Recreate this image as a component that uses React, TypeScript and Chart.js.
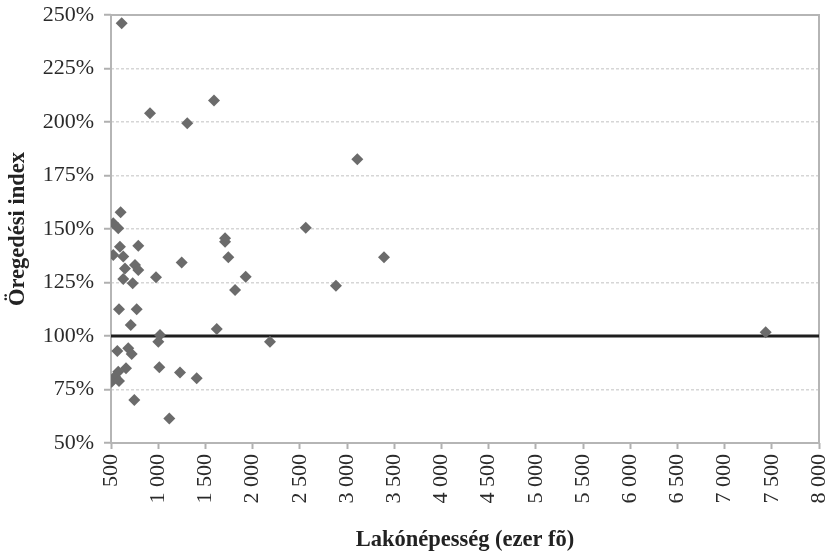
import React, { useEffect, useRef } from 'react';
import { Chart, registerables } from 'chart.js';

Chart.register(...registerables);

// Lakónépesség (ezer fő) – x values
const population = [
  613, 913, 1308, 1591, 3109, 2563, 3392, 2883, 1708, 1708, 1743, 1927, 1814, 1249, 977, 1620,
  1019, 1001, 2184, 1012, 1231, 1408, 1118, 7435,
  602, 524, 577, 595, 789, 524, 630, 754, 648, 789, 630, 730,
  585, 772, 709, 567, 683, 719, 659, 577, 542, 507, 585, 747,
];
// Öregedési index (%) – y values
const agingIndex = [
  246.1, 204.1, 199.4, 210, 182.6, 150.6, 136.8, 123.5, 145.7, 144.1, 136.8, 127.7, 121.5, 134.4, 127.4, 103.3,
  100.5, 97.3, 97.3, 85.4, 82.9, 80.2, 61.5, 101.7,
  157.8, 152.7, 150.3, 141.7, 142.2, 137.9, 137.1, 133.2, 131.6, 130.8, 126.6, 124.6,
  112.5, 112.5, 105.1, 93, 94.3, 91.6, 84.9, 83.3, 81, 78.6, 79, 70.1,
];
const referenceLevel = 100;
const xRange = [500, 8000];
const xStep = 500;
const yRange = [50, 250];
const yStep = 25;
const xTitle = 'Lakónépesség (ezer fõ)';
const yTitle = 'Öregedési index';

const fmtThousands = (v: number) =>
  v >= 1000 ? `${Math.floor(v / 1000)} ${String(v % 1000).padStart(3, '0')}` : String(v);

const framePlugin = {
  id: 'frame',
  beforeDatasetsDraw(chart: any) {
    const { ctx, chartArea } = chart;
    const { left, top, right, bottom } = chartArea;
    ctx.save();
    ctx.strokeStyle = '#b5b5b5';
    ctx.lineWidth = 2;
    ctx.strokeRect(left, top, right - left, bottom - top);
    ctx.restore();
  },
};

export default function App() {
  const ref = useRef<HTMLCanvasElement | null>(null);

  useEffect(() => {
    if (!ref.current) return;
    const font = "'Liberation Serif', 'Times New Roman', serif";
    const chart = new Chart(ref.current, {
      type: 'scatter',
      data: {
        datasets: [
          {
            label: 'points',
            data: population.map((x, i) => ({ x, y: agingIndex[i] })),
            pointStyle: 'rectRot',
            pointRadius: 6,
            pointHoverRadius: 6,
            pointBackgroundColor: '#6b6b6b',
            pointBorderColor: '#6b6b6b',
            pointBorderWidth: 0,
            order: 0,
          },
          {
            label: 'ref',
            type: 'line',
            data: [
              { x: xRange[0], y: referenceLevel },
              { x: xRange[1], y: referenceLevel },
            ],
            borderColor: '#1e1e1e',
            borderWidth: 3,
            pointRadius: 0,
            showLine: true,
            fill: false,
            order: 1,
          } as any,
        ],
      },
      options: {
        animation: false,
        responsive: true,
        maintainAspectRatio: false,
        layout: { padding: { top: 15, right: 9, left: 0, bottom: 0 } },
        plugins: { legend: { display: false }, tooltip: { enabled: false } },
        scales: {
          x: {
            type: 'linear',
            min: xRange[0],
            max: xRange[1],
            ticks: {
              stepSize: xStep,
              minRotation: 90,
              maxRotation: 90,
              padding: 5,
              color: '#2a2a2a',
              font: { family: font, size: 22 },
              callback: (v: any) => fmtThousands(Number(v)),
            },
            grid: {
              drawOnChartArea: false,
              drawTicks: true,
              tickLength: 6,
              tickColor: '#b0b0b0',
              tickWidth: 2,
            },
            border: { display: false },
            title: {
              display: true,
              text: xTitle,
              color: '#222',
              font: { family: font, size: 22.5, weight: 'bold' },
              padding: { top: 4, bottom: 2.5 },
            },
            afterFit: (s: any) => {
              s.height = 113;
              s.paddingLeft = 0;
              s.paddingRight = 0;
            },
          },
          y: {
            type: 'linear',
            min: yRange[0],
            max: yRange[1],
            ticks: {
              stepSize: yStep,
              padding: 10,
              color: '#2a2a2a',
              font: { family: font, size: 22 },
              callback: (v: any) => `${v}%`,
            },
            grid: {
              color: '#d6d6d6',
              lineWidth: 1.5,
              drawTicks: true,
              tickLength: 7,
              tickColor: '#b0b0b0',
              tickWidth: 2,
              tickBorderDash: [],
            },
            border: { display: false, dash: [3, 2] },
            title: {
              display: true,
              text: yTitle,
              color: '#222',
              font: { family: font, size: 22.5, weight: 'bold' },
              padding: { top: 4.5, bottom: 3 },
            },
            afterFit: (s: any) => {
              s.width = 111;
              s.paddingTop = 0;
              s.paddingBottom = 0;
            },
          },
        },
      } as any,
      plugins: [framePlugin],
    });
    return () => chart.destroy();
  }, []);

  return (
    <div style={{ position: 'absolute', left: 0, top: 0, width: 828, height: 556, background: '#fff' }}>
      <canvas ref={ref} />
    </div>
  );
}
